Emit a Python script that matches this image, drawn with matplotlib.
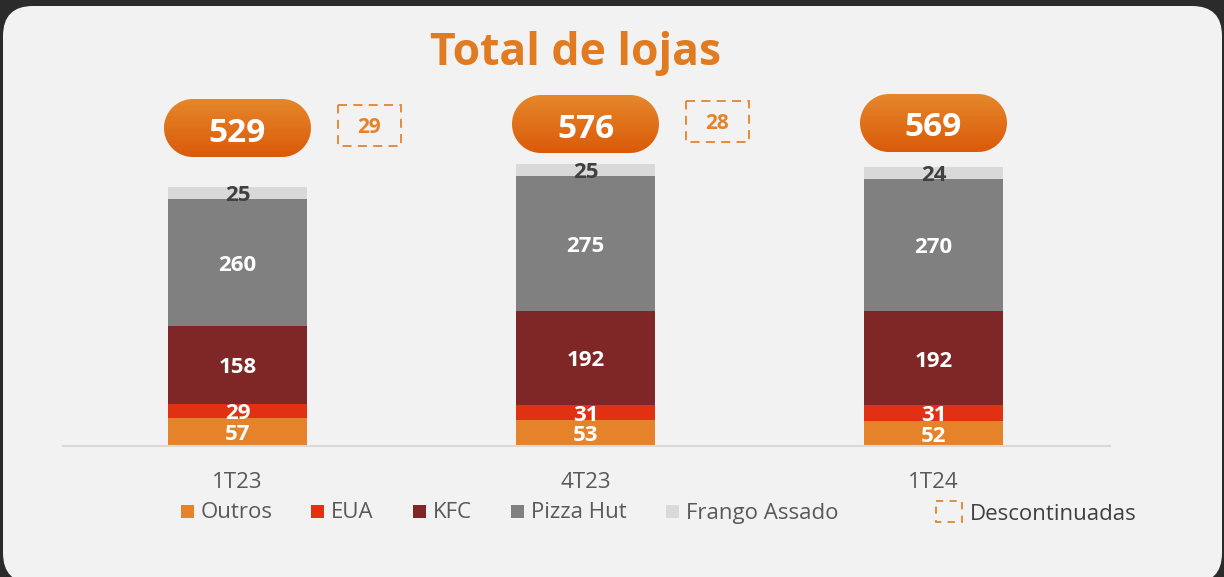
import matplotlib
matplotlib.use('Agg')
import matplotlib.pyplot as plt
import numpy as np
from matplotlib.patches import FancyBboxPatch, Rectangle, Polygon
from matplotlib.colors import LinearSegmentedColormap

categories = ['1T23', '4T23', '1T24']
outros = [57, 53, 52]
eua = [29, 31, 31]
kfc = [158, 192, 192]
pizza_hut = [260, 275, 270]
frango_assado = [25, 25, 24]
descontinuadas = [29, 28, None]
series_names = ['Outros', 'EUA', 'KFC', 'Pizza Hut', 'Frango Assado']
series_values = [outros, eua, kfc, pizza_hut, frango_assado]
colors = ['#E6832A', '#E23112', '#7F2627', '#808080', '#D9D9D9']
label_colors = ['white', 'white', 'white', 'white', '#404040']

plt.rcParams['font.family'] = ['Open Sans', 'DejaVu Sans']

W, H = 1224, 577
fig = plt.figure(figsize=(W / 100, H / 100), dpi=100)
fig.patch.set_facecolor('#2B2B2B')

bg = fig.add_axes([0, 0, 1, 1])
bg.set_xlim(0, W)
bg.set_ylim(H, 0)
bg.axis('off')
bg.add_patch(FancyBboxPatch((3, 6), 1219, 577, boxstyle='round,pad=0,rounding_size=30',
                            facecolor='#F2F2F2', edgecolor='none'))

# main axes
base_px, top_px, left_px, right_px = 446, 100, 63, 1110
scale = 0.49  # px per unit
ax = fig.add_axes([left_px / W, (H - base_px) / H, (right_px - left_px) / W, (base_px - top_px) / H])
ax.set_facecolor('none')
ax.set_ylim(0, (base_px - top_px) / scale)
ax.set_xlim(-0.5014, 2.5072)
x = np.arange(len(categories))
bottom = np.zeros(len(categories))
for name, vals, c, lc in zip(series_names, series_values, colors, label_colors):
    v = np.array(vals, dtype=float)
    ax.bar(x, v, 0.4, bottom=bottom, color=c, label=name, zorder=2)
    for xi, bi, vi in zip(x, bottom, v):
        ax.annotate(f'{int(vi)}', (xi, bi + vi / 2), xytext=(0, -2), textcoords='offset points',
                    ha='center', va='center', color=lc,
                    fontsize=16, fontweight='bold', zorder=3)
    bottom += v
totals = bottom

for s in ['top', 'right', 'left']:
    ax.spines[s].set_visible(False)
ax.spines['bottom'].set_color('#D9D9D9')
ax.spines['bottom'].set_linewidth(1.5)
ax.set_yticks([])
ax.set_xticks(x)
ax.set_xticklabels(categories, fontsize=16, color='#595959')
ax.tick_params(axis='x', length=0, pad=18.5)

# title
bg.text(576, 53, 'Total de lojas', ha='center', va='center', fontsize=32,
        fontweight='bold', color='#E07B22')


def pill_points(cx, cy, w, h, n=40):
    r = h / 2
    t1 = np.linspace(-np.pi / 2, np.pi / 2, n)
    right = np.column_stack([cx + w / 2 - r + r * np.cos(t1), cy + r * np.sin(t1)])
    t2 = np.linspace(np.pi / 2, 3 * np.pi / 2, n)
    left = np.column_stack([cx - w / 2 + r + r * np.cos(t2), cy + r * np.sin(t2)])
    return np.vstack([right, left])


# pills with totals
cmap = LinearSegmentedColormap.from_list('pill', ['#E5872B', '#DB5A0A'])
grad = np.linspace(0, 1, 100).reshape(-1, 1)
pill_y = [128, 124, 123]
pill_w, pill_h = 147, 58
fig.canvas.draw()
for xi, tot, py, disc in zip(x, totals, pill_y, descontinuadas):
    cx = ax.transData.transform((xi, 0))[0]
    cy = py
    patch = Polygon(pill_points(cx, cy, pill_w, pill_h), closed=True,
                    facecolor='none', edgecolor='none')
    bg.add_patch(patch)
    im = bg.imshow(grad, cmap=cmap, aspect='auto', interpolation='bilinear',
                   extent=(cx - pill_w / 2, cx + pill_w / 2, cy + pill_h / 2, cy - pill_h / 2),
                   zorder=2)
    im.set_clip_path(patch)
    bg.text(cx, cy + 5, f'{int(tot)}', ha='center', va='center', color='white',
            fontsize=24, fontweight='bold', zorder=3)
    if disc is not None:
        dx = cx + 132
        dy = cy - 3
        bw, bh = 63, 41
        bg.add_patch(Rectangle((dx - bw / 2, dy - bh / 2), bw, bh, facecolor='none',
                               edgecolor='#E6832A', linewidth=1.3, linestyle=(0, (5, 3.5))))
        bg.text(dx, dy + 2.5, f'{disc}', ha='center', va='center', color='#E6832A',
                fontsize=15, fontweight='bold')
bg.set_xlim(0, W)
bg.set_ylim(H, 0)

# legend
leg_x = [181, 311, 413, 511, 666]
for lx, name, c in zip(leg_x, series_names, colors):
    bg.add_patch(Rectangle((lx, 505), 13, 13, facecolor=c, edgecolor='none'))
    bg.text(lx + 20, 513, name, ha='left', va='center', fontsize=16, color='#595959')
bg.add_patch(Rectangle((936, 501), 26, 21, facecolor='none', edgecolor='#E6832A',
                       linewidth=1.3, linestyle=(0, (4, 3.5))))
bg.text(970, 514.5, 'Descontinuadas', ha='left', va='center', fontsize=16, color='#404040')

fig.savefig('out.png', dpi=100, facecolor=fig.get_facecolor())
